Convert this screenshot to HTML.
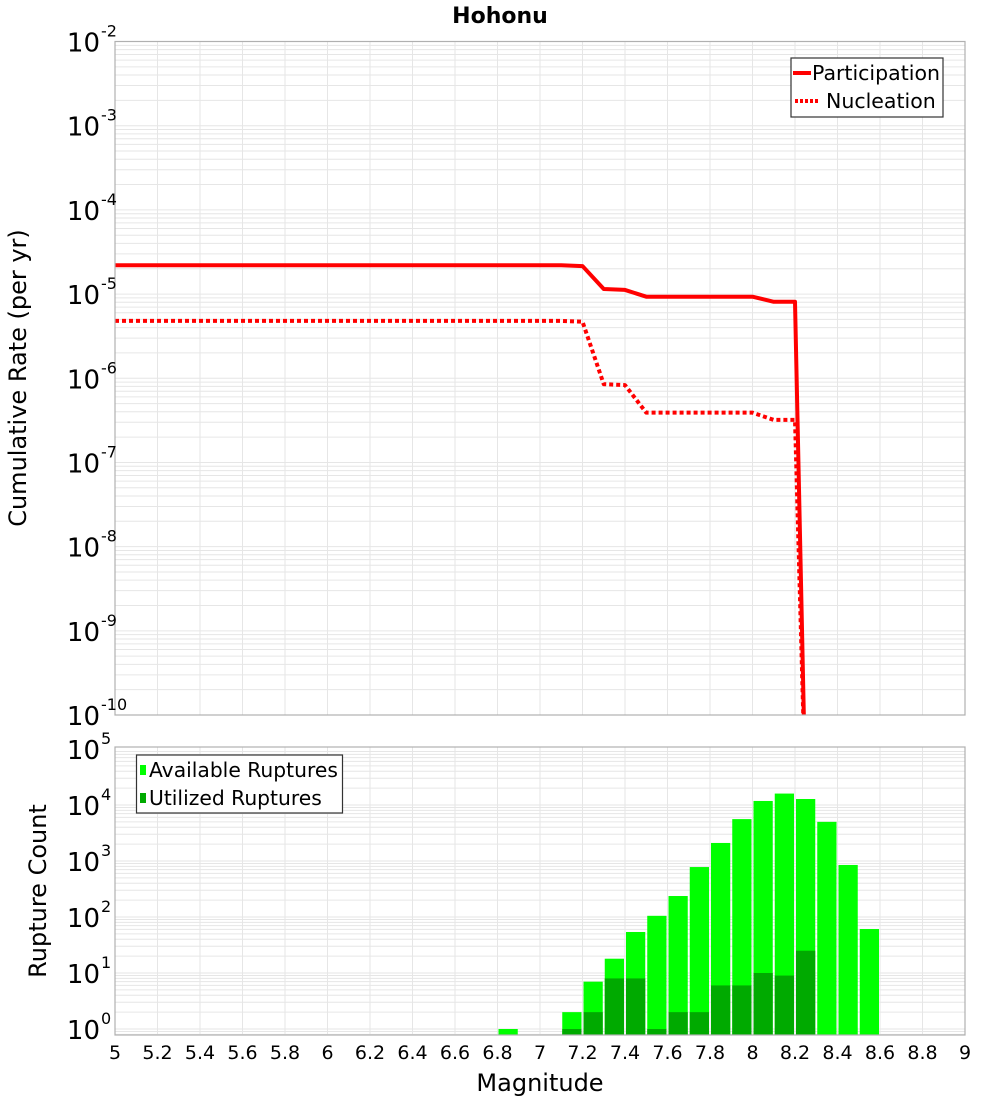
<!DOCTYPE html>
<html><head><meta charset="utf-8"><style>
html,body{margin:0;padding:0;background:#fff;}
svg{display:block;font-family:"DejaVu Sans","Liberation Sans",sans-serif;}
</style></head><body>
<svg id="chart" width="1000" height="1100" viewBox="0 0 1000 1100" xmlns="http://www.w3.org/2000/svg"></svg>
<script>
// ---- data ----
const partMags = [5.0, 7.1, 7.2, 7.3, 7.4, 7.5, 8.0, 8.1, 8.2, 8.25];
const partRates = [2.2e-5, 2.2e-5, 2.15e-5, 1.15e-5, 1.12e-5, 9.3e-6, 9.3e-6, 8.1e-6, 8.1e-6, 1e-11];
const nuclMags = [5.0, 7.1, 7.2, 7.3, 7.4, 7.5, 8.0, 8.1, 8.2, 8.25];
const nuclRates = [4.8e-6, 4.8e-6, 4.7e-6, 8.5e-7, 8.3e-7, 3.9e-7, 3.9e-7, 3.2e-7, 3.2e-7, 1e-11];
const binStarts = [6.8, 7.1, 7.2, 7.3, 7.4, 7.5, 7.6, 7.7, 7.8, 7.9, 8.0, 8.1, 8.2, 8.3, 8.4, 8.5];
const availableCounts = [1, 2, 7, 18, 54, 105, 237, 780, 2100, 5600, 11800, 16000, 12800, 5000, 850, 61];
const utilizedCounts = [0, 1, 2, 8, 8, 1, 2, 2, 6, 6, 10, 9, 25, 0, 0, 0];
const xTicks = ["5","5.2","5.4","5.6","5.8","6","6.2","6.4","6.6","6.8","7","7.2","7.4","7.6","7.8","8","8.2","8.4","8.6","8.8","9"];
const topExps = [-2,-3,-4,-5,-6,-7,-8,-9,-10];
const botExps = [5,4,3,2,1,0];

// ---- geometry ----
const NS = "http://www.w3.org/2000/svg";
const svg = document.getElementById('chart');
const L = 115, R = 965;
const T1 = 41.5, B1 = 715;
const T2 = 747, B2 = 1035;
const x = m => L + (m - 5) * (R - L) / 4;
const yTop = v => T1 + (-2 - Math.log10(v)) * (B1 - T1) / 8;
const yBot = v => 1029 - Math.log10(v) * 56;

function el(tag, attrs, parent) {
  const e = document.createElementNS(NS, tag);
  for (const k in attrs) e.setAttribute(k, attrs[k]);
  (parent || svg).appendChild(e);
  return e;
}

const defs = el('defs', {});
const c1 = el('clipPath', {id: 'clipTop'}, defs);
el('rect', {x: L, y: T1, width: R - L, height: B1 - T1}, c1);
const c2 = el('clipPath', {id: 'clipBot'}, defs);
el('rect', {x: L, y: T2, width: R - L, height: B2 - T2}, c2);

function grid(top, bot, yfn, decLo, decHi, name) {
  const g = el('g', {stroke: '#e6e6e6', 'stroke-width': 1});
  
  
  for (let i = 0; i <= 20; i++) { const xx = L + i * (R - L) / 20; el('line', {x1: xx, x2: xx, y1: top, y2: bot}, g); }
  for (let d = decLo; d <= decHi; d++) for (let k = 1; k <= 9; k++) {
    const yy = yfn(k * Math.pow(10, d));
    if (yy >= top && yy <= bot) el('line', {x1: L, x2: R, y1: yy, y2: yy}, g);
  }
}
grid(T1, B1, yTop, -10, -3, 'top-grid');
grid(T2, B2, yBot, -1, 4, 'bottom-grid');

function lineSeries(mags, vals, name, dash) {
  const pts = mags.map((m, i) => x(m) + ',' + yTop(vals[i])).join(' ');
  const p = el('polyline', {points: pts, fill: 'none', stroke: '#ff0000', 'stroke-width': 4, 'clip-path': 'url(#clipTop)', 'stroke-linejoin': 'round'});
  if (dash) p.setAttribute('stroke-dasharray', '4,3');
  
  
}
lineSeries(partMags, partRates, 'participation-line', false);
lineSeries(nuclMags, nuclRates, 'nucleation-line', true);

const gb = el('g', {'clip-path': 'url(#clipBot)'});
binStarts.forEach((b, i) => {
  const x0 = x(b) + 1, w = x(b + 0.1) - x(b) - 2;
  if (availableCounts[i] > 0) {
    const yy = yBot(availableCounts[i]);
    const r = el('rect', {x: x0, y: yy, width: w, height: B2 - yy, fill: '#00ff00'}, gb);
    
    
  }
  if (utilizedCounts[i] > 0) {
    const yy = yBot(utilizedCounts[i]);
    const r = el('rect', {x: x0, y: yy, width: w, height: B2 - yy, fill: '#00aa00'}, gb);
    
    
  }
});

el('rect', {x: L, y: T1, width: R - L, height: B1 - T1, fill: 'none', stroke: '#b0b0b0', 'stroke-width': 1.2});
el('rect', {x: L, y: T2, width: R - L, height: B2 - T2, fill: 'none', stroke: '#b0b0b0', 'stroke-width': 1.2});

function yLabels(exps, yfn, name) {
  exps.forEach(e => {
    const yy = yfn(Math.pow(10, e));
    const t = el('text', {x: 100, y: yy + 10, 'text-anchor': 'end', 'font-size': 26, fill: '#000'});
    t.textContent = '10';
    
    
    const s = el('text', {x: 101, y: yy - 5, 'font-size': 16, fill: '#000'});
    s.textContent = String(e);
    
    
  });
}
yLabels(topExps, yTop, 'top-y-tick');
yLabels(botExps, yBot, 'bottom-y-tick');

xTicks.forEach(t => {
  const tx = el('text', {x: x(parseFloat(t)), y: 1059, 'text-anchor': 'middle', 'font-size': 19, fill: '#000'});
  tx.textContent = t;
  
  
});
</script>
<svg style="position:absolute;left:0;top:0" width="1000" height="1100" xmlns="http://www.w3.org/2000/svg" font-family="DejaVu Sans, Liberation Sans, sans-serif">
  <text x="500" y="23" text-anchor="middle" font-size="22" font-weight="bold">Hohonu</text>
  <text transform="translate(26,378) rotate(-90)" text-anchor="middle" font-size="24">Cumulative Rate (per yr)</text>
  <text transform="translate(46,891) rotate(-90)" text-anchor="middle" font-size="24">Rupture Count</text>
  <text x="540" y="1091" text-anchor="middle" font-size="24">Magnitude</text>
  <g>
    <rect x="791" y="58" width="152" height="59" fill="#fff" stroke="#333" stroke-width="1.2"/>
    <line x1="793" x2="811" y1="73" y2="73" stroke="#ff0000" stroke-width="4"/>
    <text x="812" y="80" font-size="20.5">Participation</text>
    <line x1="795" x2="820" y1="101" y2="101" stroke="#ff0000" stroke-width="4" stroke-dasharray="3,2"/>
    <text x="826" y="108" font-size="20.5">Nucleation</text>
  </g>
  <g>
    <rect x="136.5" y="755" width="206" height="58" fill="#fff" stroke="#333" stroke-width="1.2"/>
    <rect x="140" y="765" width="6" height="10" fill="#00ff00"/>
    <text x="149" y="777" font-size="20.3">Available Ruptures</text>
    <rect x="140" y="793" width="6" height="10" fill="#00aa00"/>
    <text x="149" y="805" font-size="20.3">Utilized Ruptures</text>
  </g>
</svg>
</body></html>
